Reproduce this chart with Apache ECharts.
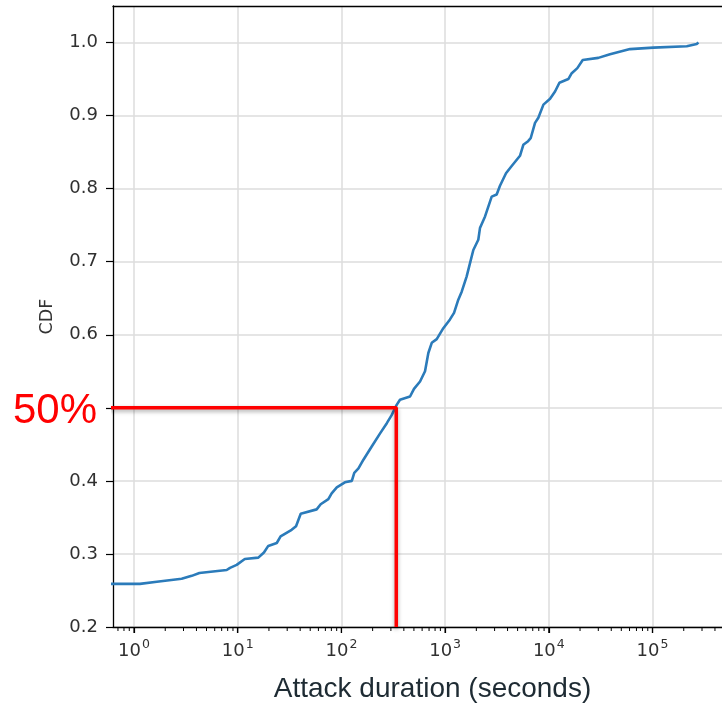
<!DOCTYPE html>
<html><head><meta charset="utf-8">
<script src="https://cdn.jsdelivr.net/npm/echarts@6/dist/echarts.min.js"></script>
<style>html,body{margin:0;padding:0;background:#fff}#c{width:722px;height:706px}</style>
</head><body><div id="c"></div>
<script>
// Attack duration (seconds) and CDF
const durations = [0.6, 1.14, 1.66, 2.88, 3.6, 4.27, 7.83, 8.43, 9.77, 11.7, 15.8, 17.9, 19.7, 23.8, 25.9,
  33.1, 36.5, 40.5, 57.7, 63.1, 74.8, 80.5, 90.2, 108, 126, 133, 146, 163, 196, 236, 274, 305, 341, 367,
  459, 501, 573, 640, 689, 743, 830, 961, 1114, 1219, 1340, 1445, 1614, 1738, 1871, 2089, 2168, 2427,
  2812, 3141, 3381, 3864, 4385, 5272, 5675, 6310, 6683, 7362, 7925, 8872, 10280, 11480, 12650, 15420,
  16630, 18840, 21230, 30000, 38900, 60700, 101800, 213800, 266700, 277300];
const cdfValues = [0.259, 0.259, 0.262, 0.266, 0.270, 0.274, 0.278, 0.281, 0.285, 0.293, 0.295, 0.302, 0.311, 0.315, 0.324,
  0.333, 0.338, 0.355, 0.361, 0.368, 0.375, 0.383, 0.391, 0.398, 0.400, 0.411, 0.417, 0.429, 0.447, 0.465, 0.479, 0.490, 0.504, 0.511,
  0.5155, 0.526, 0.536, 0.550, 0.575, 0.589, 0.594, 0.609, 0.621, 0.630, 0.648, 0.659, 0.680, 0.698, 0.716, 0.730, 0.746, 0.762,
  0.789, 0.792, 0.804, 0.821, 0.831, 0.845, 0.860, 0.865, 0.869, 0.890, 0.897, 0.915, 0.923, 0.933, 0.945, 0.950,
  0.958, 0.965, 0.976, 0.979, 0.984, 0.991, 0.993, 0.995, 0.998, 1.000];
const xMajorTicks = [1, 10, 100, 1000, 10000, 100000];
const xMinorTicks = [0.7, 0.8, 0.9,
  2, 3, 4, 5, 6, 7, 8, 9,
  20, 30, 40, 50, 60, 70, 80, 90,
  200, 300, 400, 500, 600, 700, 800, 900,
  2000, 3000, 4000, 5000, 6000, 7000, 8000, 9000,
  20000, 30000, 40000, 50000, 60000, 70000, 80000, 90000,
  200000, 300000, 400000];
const yTicks = [0.2, 0.3, 0.4, 0.5, 0.6, 0.7, 0.8, 0.9, 1.0];
const yTickLabels = [0.2, 0.3, 0.4, 0.6, 0.7, 0.8, 0.9, 1.0];
const medianDuration = 338;
const medianLevel = 0.5;
const medianText = '50%';
const xMin = 0.627, xMax = 467700, yMin = 0.2, yMax = 1.05;

const chart = echarts.init(document.getElementById('c'), null, {renderer: 'canvas'});
const gridCol = '#dcdcdc';
const baseX = {type: 'log', logBase: 10, min: xMin, max: xMax, gridIndex: 0};
chart.setOption({
  animation: false,
  backgroundColor: '#fff',
  grid: {left: 113, top: 6, right: 0, bottom: 79, containLabel: false, outerBoundsMode: 'none'},
  xAxis: [
    Object.assign({}, baseX, {
      position: 'bottom',
      name: 'Attack duration (seconds)', nameLocation: 'middle', nameGap: 48,
      nameTextStyle: {fontFamily: 'Liberation Sans', fontSize: 28, color: '#1e2b33', padding: [0, 0, 0, 30]},
      axisLine: {show: true, lineStyle: {color: '#000', width: 1.3}},
      axisTick: {show: true, length: 6, customValues: xMajorTicks, lineStyle: {color: '#000', width: 1.2}},
      axisLabel: {show: true, customValues: xMajorTicks, margin: 11,
        formatter: v => '{b|10}{s|' + Math.round(Math.log10(v)) + '}',
        rich: {
          b: {fontFamily: 'DejaVu Sans', fontSize: 18, color: '#303030', verticalAlign: 'bottom'},
          s: {fontFamily: 'DejaVu Sans', fontSize: 12.5, color: '#303030', verticalAlign: 'top', padding: [0, 0, 9, 1]}
        }},
      splitLine: {show: true, lineStyle: {color: gridCol, width: 1.5}}
    }),
    Object.assign({}, baseX, {
      position: 'top',
      axisLine: {show: true, lineStyle: {color: '#000', width: 1.3}},
      axisTick: {show: false}, axisLabel: {show: false}, splitLine: {show: false}
    })
  ],
  yAxis: {
    type: 'value', min: yMin, max: yMax, interval: 0.1,
    name: 'CDF', nameLocation: 'middle', nameGap: 57, nameRotate: 90,
    nameTextStyle: {fontFamily: 'DejaVu Sans', fontSize: 17.5, color: '#333'},
    axisLine: {show: true, lineStyle: {color: '#000', width: 1.3}},
    axisTick: {show: true, length: 7, customValues: yTicks, lineStyle: {color: '#000', width: 1.2}},
    axisLabel: {customValues: yTickLabels, margin: 15, fontFamily: 'DejaVu Sans', fontSize: 18, color: '#303030',
      formatter: v => v.toFixed(1)},
    splitLine: {show: true, lineStyle: {color: gridCol, width: 1.5}}
  },
  series: [
    {
      type: 'line', name: 'CDF', xAxisIndex: 0,
      data: durations.map((d, i) => [d, cdfValues[i]]),
      showSymbol: false, symbol: 'none', clip: true,
      lineStyle: {color: '#2b7bba', width: 2.6}
    },
    {
      type: 'line', name: 'median', xAxisIndex: 0,
      data: [[0.59, medianLevel], [medianDuration, medianLevel], [medianDuration, yMin]],
      showSymbol: false, symbol: 'none', clip: false,
      lineStyle: {color: '#ff0000', width: 3.5, shadowColor: 'rgba(0,0,0,0.35)', shadowBlur: 4, shadowOffsetY: 2},
      z: 5
    }
  ]
});

// log-axis ticks (major + minor), positioned through the x axis scale
function tickMarks(values, len, width) {
  return values.map(v => {
    const p = chart.convertToPixel({xAxisIndex: 0, yAxisIndex: 0}, [v, yMin]);
    return {type: 'line', silent: true, z: 100,
      shape: {x1: p[0], y1: p[1], x2: p[0], y2: p[1] + len},
      style: {stroke: '#000', lineWidth: width}};
  });
}
chart.setOption({graphic: [{
  type: 'text', right: 722 - 97, top: 390,
  style: {text: medianText, fontFamily: 'Liberation Sans', fontSize: 42, fill: '#ff0000'}
}].concat(tickMarks(xMajorTicks, 6, 1.2), tickMarks(xMinorTicks, 4, 1))});
</script></body></html>
